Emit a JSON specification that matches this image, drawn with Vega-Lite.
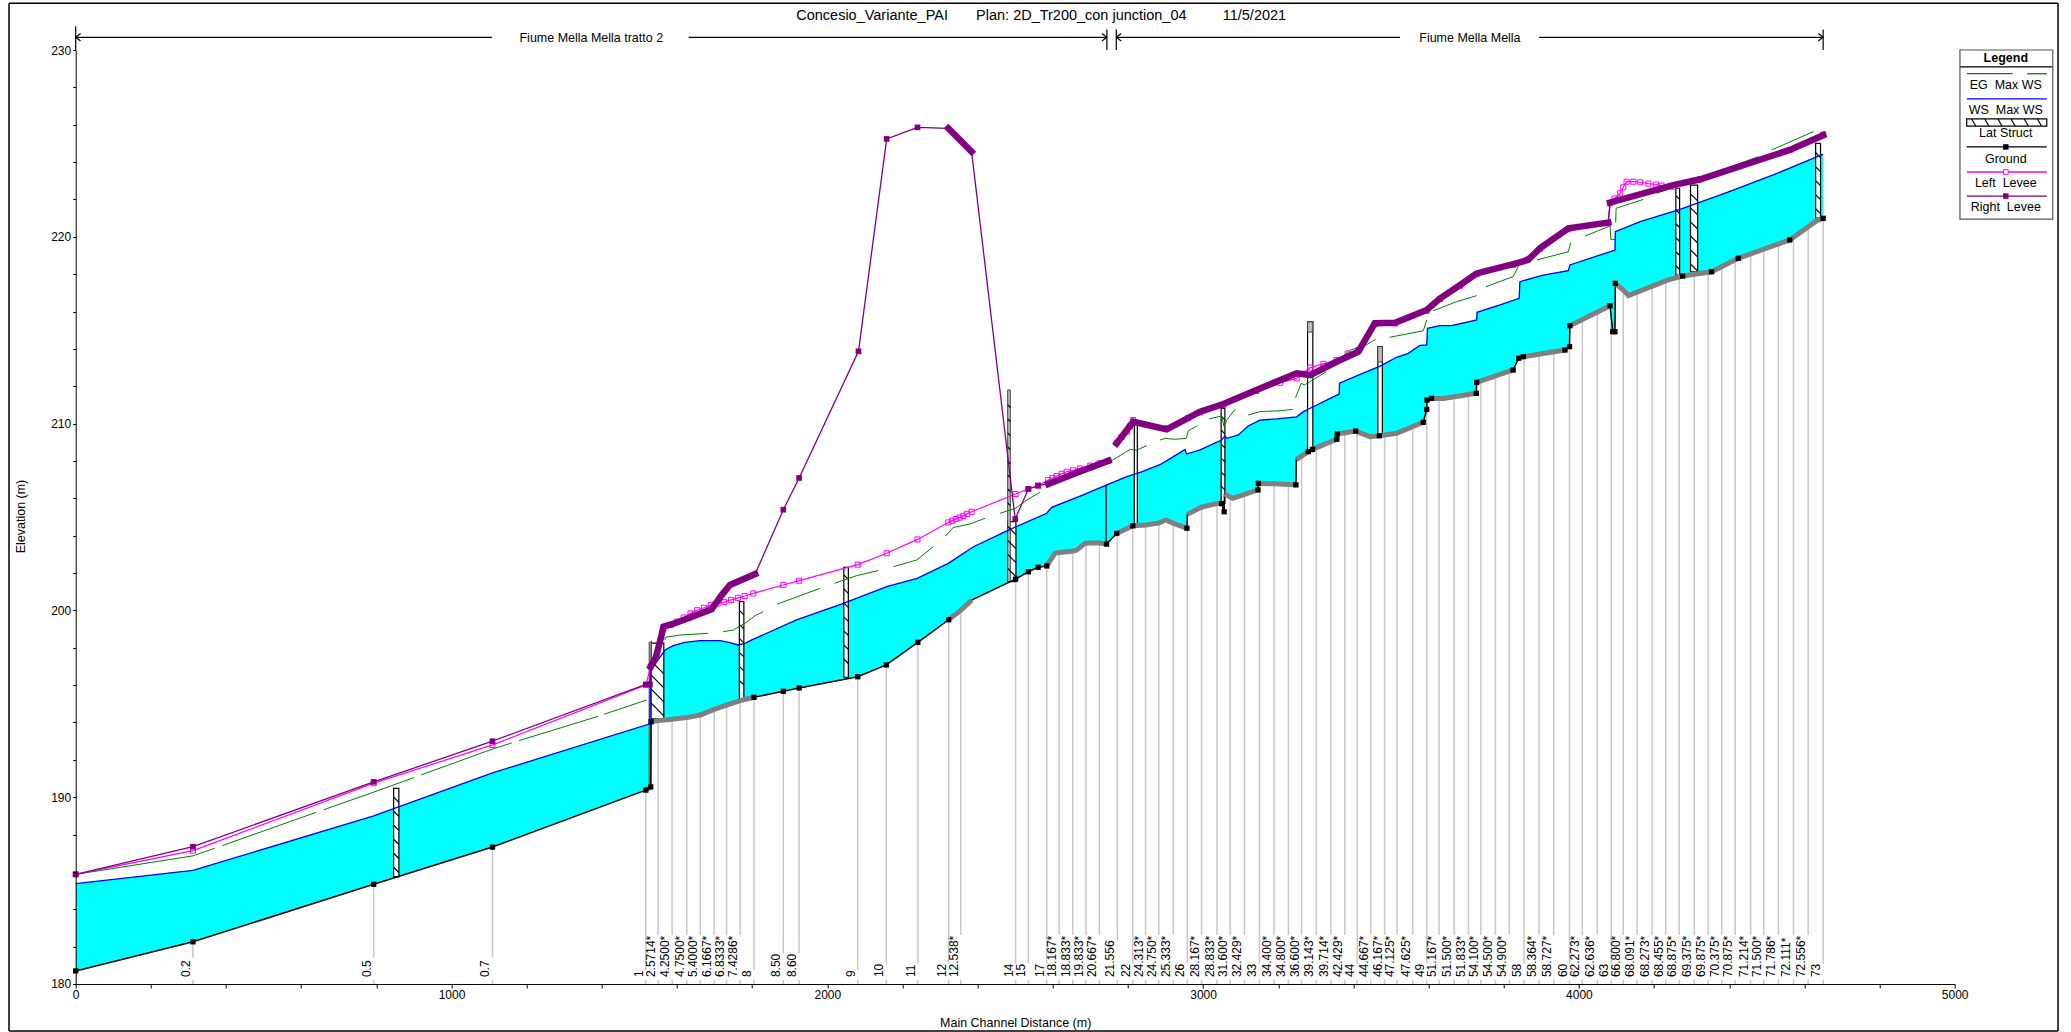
{"$schema":"https://vega.github.io/schema/vega-lite/v6.json","autosize":{"type":"none"},"padding":{"left":75.7,"top":50,"right":116.4,"bottom":48},"width":1879,"height":934,"background":"white",
"title":{"text":"Concesio_Variante_PAI\u00a0\u00a0\u00a0\u00a0\u00a0\u00a0\u00a0Plan: 2D_Tr200_con junction_04\u00a0\u00a0\u00a0\u00a0\u00a0\u00a0\u00a0\u00a0\u00a011/5/2021","anchor":"middle","dx":26,"offset":-21,"fontSize":14.5,"font":"Liberation Sans","fontWeight":"normal","color":"black"},
"config":{"view":{"stroke":null},"axis":{"grid":false,"labelFont":"Liberation Sans","titleFont":"Liberation Sans","labelFontSize":12,"titleFontSize":12.5,"titleFontWeight":"normal","domainColor":"black","tickColor":"black","labelColor":"black","titleColor":"black","tickSize":4,"labelPadding":2}},
"datasets":{
"frame":[{"x":-177.5,"x2":5275,"y":232.5,"y2":232.5},{"x":-177.5,"x2":5275,"y":177.48,"y2":177.48},{"x":-177.5,"x2":-177.5,"y":232.5,"y2":177.48},{"x":5275,"x2":5275,"y":232.5,"y2":177.48}],
"box":[{"x":5014,"x2":5261,"y":230,"y2":220.95}],
"keytitle":[{"t":"Legend","x":5136,"y":229.59}],
"keymarks":[{"series":"Ground","x":5136,"y":224.81},{"series":"Left Levee","x":5136,"y":223.47},{"series":"Right Levee","x":5136,"y":222.18}],
"ws":[{"x":0,"y":185.37},{"x":312,"y":186.08},{"x":793,"y":189.0},{"x":1109,"y":191.3},{"x":1528,"y":193.93},{"x":1530,"y":196.8},{"x":1568,"y":197.88},{"x":1590,"y":198.11},{"x":1621,"y":198.29},{"x":1661,"y":198.38},{"x":1715,"y":198.38},{"x":1741,"y":198.27},{"x":1763,"y":198.15},{"x":1781,"y":198.24},{"x":1799,"y":198.42},{"x":1918,"y":199.49},{"x":2043,"y":200.38},{"x":2158,"y":201.27},{"x":2239,"y":201.72},{"x":2322,"y":202.52},{"x":2389,"y":203.41},{"x":2482,"y":204.3},{"x":2584,"y":205.2},{"x":2597,"y":205.52},{"x":2681,"y":206.18},{"x":2739,"y":206.68},{"x":2797,"y":207.16},{"x":2836,"y":207.42},{"x":2885,"y":207.8},{"x":2921,"y":208.23},{"x":2952,"y":208.62},{"x":2956,"y":208.37},{"x":2992,"y":208.59},{"x":3049,"y":209.12},{"x":3058,"y":209.34},{"x":3063,"y":209.21},{"x":3094,"y":209.39},{"x":3120,"y":209.87},{"x":3151,"y":210.19},{"x":3196,"y":210.25},{"x":3249,"y":210.36},{"x":3267,"y":210.64},{"x":3293,"y":210.9},{"x":3338,"y":211.35},{"x":3362,"y":211.58},{"x":3363,"y":212.16},{"x":3418,"y":212.64},{"x":3471,"y":213.08},{"x":3515,"y":213.55},{"x":3546,"y":213.76},{"x":3577,"y":214.19},{"x":3595,"y":214.21},{"x":3597,"y":215.1},{"x":3630,"y":215.24},{"x":3661,"y":215.24},{"x":3728,"y":215.55},{"x":3729,"y":215.96},{"x":3790,"y":216.35},{"x":3841,"y":216.71},{"x":3843,"y":217.6},{"x":3905,"y":217.95},{"x":3972,"y":218.19},{"x":3976,"y":218.49},{"x":4096,"y":219.29},{"x":4097,"y":220.27},{"x":4163,"y":220.81},{"x":4269,"y":221.47},{"x":4393,"y":222.36},{"x":4517,"y":223.31},{"x":4650,"y":224.43}],
"ground":[{"x":0,"y":180.7,"s":1},{"x":312,"y":182.26,"s":1},{"x":793,"y":185.34,"s":1},{"x":1109,"y":187.33,"s":1},{"x":1517,"y":190.38,"run":1,"s":1},{"x":1530,"y":190.55,"run":1,"s":1},{"x":1531,"y":194.04,"run":2,"s":1},{"x":1550,"y":194.1,"run":2},{"x":1587,"y":194.17,"run":2},{"x":1626,"y":194.26,"run":2},{"x":1662,"y":194.4,"run":2},{"x":1699,"y":194.7,"run":2},{"x":1732,"y":194.93,"run":2},{"x":1768,"y":195.17,"run":2},{"x":1805,"y":195.35,"run":2,"s":1},{"x":1883,"y":195.67,"s":1},{"x":1925,"y":195.85,"s":1},{"x":2081,"y":196.45,"s":1},{"x":2157,"y":197.08,"s":1},{"x":2241,"y":198.29,"s":1},{"x":2323,"y":199.5,"run":3,"s":1},{"x":2355,"y":200.0,"run":3},{"x":2384,"y":200.55,"run":3},{"x":2501,"y":201.67,"s":1},{"x":2535,"y":202.07,"s":1},{"x":2561,"y":202.31,"s":1},{"x":2584,"y":202.38,"run":4,"s":1},{"x":2606,"y":203.06,"run":4},{"x":2617,"y":203.1,"run":4},{"x":2653,"y":203.17,"run":4},{"x":2664,"y":203.23,"run":4},{"x":2686,"y":203.6,"run":4},{"x":2724,"y":203.62,"run":4},{"x":2743,"y":203.55,"run":4,"s":1},{"x":2770,"y":204.12,"run":5,"s":1},{"x":2813,"y":204.53,"run":5,"s":1},{"x":2847,"y":204.57,"run":5},{"x":2882,"y":204.68,"run":5},{"x":2901,"y":204.84,"run":5},{"x":2921,"y":204.66,"run":5},{"x":2957,"y":204.4,"run":5,"s":1},{"x":2958,"y":205.14,"run":6},{"x":2996,"y":205.53,"run":6},{"x":3037,"y":205.72,"run":6},{"x":3049,"y":205.72,"run":6,"s":1},{"x":3056,"y":205.28,"s":1},{"x":3057,"y":206.23,"run":7},{"x":3079,"y":206.0,"run":7},{"x":3146,"y":206.45,"run":7,"s":1},{"x":3147,"y":206.8,"run":8,"s":1},{"x":3189,"y":206.78,"run":8},{"x":3227,"y":206.74,"run":8},{"x":3247,"y":206.72,"run":8,"s":1},{"x":3248,"y":208.07,"run":9},{"x":3280,"y":208.5,"run":9,"s":1},{"x":3291,"y":208.62,"run":10,"s":1},{"x":3351,"y":209.12,"run":10},{"x":3356,"y":209.16,"s":1},{"x":3357,"y":209.44,"run":11,"s":1},{"x":3406,"y":209.6,"run":11,"s":1},{"x":3444,"y":209.3,"run":11},{"x":3469,"y":209.35,"run":11,"s":1},{"x":3515,"y":209.48,"run":11},{"x":3586,"y":210.07,"run":11,"s":1},{"x":3595,"y":210.76,"s":1},{"x":3596,"y":211.26,"s":1},{"x":3608,"y":211.35,"run":12,"s":1},{"x":3640,"y":211.35,"run":12},{"x":3727,"y":211.62,"run":12,"s":1},{"x":3728,"y":212.21,"run":13,"s":1},{"x":3825,"y":212.87,"run":13,"s":1},{"x":3840,"y":213.5,"s":1},{"x":3852,"y":213.58,"run":14,"s":1},{"x":3963,"y":213.94,"run":14,"s":1},{"x":3975,"y":214.12,"s":1},{"x":3976,"y":215.24,"run":15,"s":1},{"x":4083,"y":216.31,"run":15,"s":1},{"x":4090,"y":214.92,"s":1},{"x":4096,"y":214.92,"s":1},{"x":4097,"y":217.51,"run":16,"s":1},{"x":4118,"y":217.15,"run":16},{"x":4132,"y":216.85,"run":16},{"x":4238,"y":217.69,"run":16},{"x":4276,"y":217.9,"run":16,"s":1},{"x":4353,"y":218.13,"run":16,"s":1},{"x":4424,"y":218.85,"run":16,"s":1},{"x":4561,"y":219.83,"run":16,"s":1},{"x":4633,"y":220.86,"run":16},{"x":4650,"y":220.99,"run":16,"s":1}],
"stations":[{"t":"0.2","x":312,"y":182.26,"y2":181.41},{"t":"0.5","x":793,"y":185.34,"y2":181.41},{"t":"0.7","x":1109,"y":187.33,"y2":181.41},{"t":"1","x":1517,"y":190.38,"y2":180.75},{"t":"2.5714*","x":1550,"y":194.1,"y2":182.62},{"t":"4.2500*","x":1587,"y":194.17,"y2":182.62},{"t":"4.7500*","x":1626,"y":194.26,"y2":182.62},{"t":"5.4000*","x":1662,"y":194.4,"y2":182.62},{"t":"6.1667*","x":1699,"y":194.7,"y2":182.62},{"t":"6.8333*","x":1732,"y":194.93,"y2":182.62},{"t":"7.4286*","x":1768,"y":195.17,"y2":182.62},{"t":"8","x":1805,"y":195.35,"y2":180.75},{"t":"8.50","x":1883,"y":195.67,"y2":181.66},{"t":"8.60","x":1925,"y":195.85,"y2":181.66},{"t":"9","x":2081,"y":196.45,"y2":180.75},{"t":"10","x":2157,"y":197.08,"y2":181.1},{"t":"11","x":2241,"y":198.29,"y2":181.1},{"t":"12","x":2323,"y":199.5,"y2":181.1},{"t":"12.538*","x":2355,"y":200.0,"y2":182.62},{"t":"14","x":2501,"y":201.66,"y2":181.1},{"t":"15","x":2535,"y":202.07,"y2":181.1},{"t":"17","x":2584,"y":202.38,"y2":181.1},{"t":"18.167*","x":2617,"y":203.1,"y2":182.62},{"t":"18.833*","x":2653,"y":203.15,"y2":182.62},{"t":"19.833*","x":2688,"y":203.55,"y2":182.62},{"t":"20.667*","x":2724,"y":203.62,"y2":182.62},{"t":"21.556","x":2772,"y":204.12,"y2":182.35},{"t":"22","x":2813,"y":204.53,"y2":181.1},{"t":"24.313*","x":2847,"y":204.57,"y2":182.62},{"t":"24.750*","x":2882,"y":204.68,"y2":182.62},{"t":"25.333*","x":2921,"y":204.66,"y2":182.62},{"t":"26","x":2958,"y":204.4,"y2":181.1},{"t":"28.167*","x":2996,"y":205.53,"y2":182.62},{"t":"28.833*","x":3037,"y":205.72,"y2":182.62},{"t":"31.600*","x":3072,"y":206.1,"y2":182.62},{"t":"32.429*","x":3110,"y":206.25,"y2":182.62},{"t":"33","x":3150,"y":206.8,"y2":181.1},{"t":"34.400*","x":3189,"y":206.78,"y2":182.62},{"t":"34.800*","x":3227,"y":206.74,"y2":182.62},{"t":"36.600*","x":3262,"y":208.15,"y2":182.62},{"t":"39.143*","x":3301,"y":208.6,"y2":182.62},{"t":"39.714*","x":3340,"y":209.05,"y2":182.62},{"t":"42.429*","x":3377,"y":209.5,"y2":182.62},{"t":"44","x":3410,"y":209.6,"y2":181.1},{"t":"44.667*","x":3446,"y":209.3,"y2":182.62},{"t":"46.167*","x":3483,"y":209.4,"y2":182.62},{"t":"47.125*","x":3516,"y":209.5,"y2":182.62},{"t":"47.625*","x":3558,"y":209.8,"y2":182.62},{"t":"49","x":3595,"y":210.76,"y2":181.1},{"t":"51.167*","x":3628,"y":211.35,"y2":182.62},{"t":"51.500*","x":3668,"y":211.4,"y2":182.62},{"t":"51.833*","x":3706,"y":211.55,"y2":182.62},{"t":"54.100*","x":3739,"y":212.24,"y2":182.62},{"t":"54.500*","x":3778,"y":212.5,"y2":182.62},{"t":"54.900*","x":3815,"y":212.8,"y2":182.62},{"t":"58","x":3854,"y":213.6,"y2":181.1},{"t":"58.364*","x":3894,"y":213.69,"y2":182.62},{"t":"58.727*","x":3933,"y":213.79,"y2":182.62},{"t":"60","x":3975,"y":214.12,"y2":181.1},{"t":"62.273*","x":4009,"y":215.6,"y2":182.62},{"t":"62.636*","x":4049,"y":215.9,"y2":182.62},{"t":"63","x":4086,"y":216.3,"y2":181.1},{"t":"66.800*","x":4118,"y":217.15,"y2":182.62},{"t":"68.091*","x":4155,"y":217.15,"y2":182.62},{"t":"68.273*","x":4195,"y":217.45,"y2":182.62},{"t":"68.455*","x":4231,"y":217.65,"y2":182.62},{"t":"68.875*","x":4267,"y":217.85,"y2":182.62},{"t":"69.375*","x":4307,"y":218.0,"y2":182.62},{"t":"69.875*","x":4344,"y":218.15,"y2":182.62},{"t":"70.375*","x":4380,"y":218.4,"y2":182.62},{"t":"70.875*","x":4416,"y":218.75,"y2":182.62},{"t":"71.214*","x":4457,"y":219.05,"y2":182.62},{"t":"71.500*","x":4492,"y":219.3,"y2":182.62},{"t":"71.786*","x":4531,"y":219.65,"y2":182.62},{"t":"72.111*","x":4571,"y":219.9,"y2":182.62},{"t":"72.556*","x":4610,"y":220.5,"y2":182.62},{"t":"73","x":4650,"y":220.99,"y2":181.1}],
"eg":[{"x":0,"y":185.87,"seg":0},{"x":312,"y":186.86,"seg":0},{"x":370,"y":187.27,"seg":0},{"x":390,"y":187.41,"seg":1},{"x":640,"y":189.19,"seg":1},{"x":660,"y":189.33,"seg":2},{"x":793,"y":190.27,"seg":2},{"x":900,"y":191.05,"seg":2},{"x":920,"y":191.2,"seg":3},{"x":1109,"y":192.58,"seg":3},{"x":1160,"y":192.9,"seg":3},{"x":1180,"y":193.03,"seg":4},{"x":1390,"y":194.33,"seg":4},{"x":1406,"y":194.44,"seg":5},{"x":1519,"y":195.2,"seg":5},{"x":1532,"y":198.38,"seg":6},{"x":1533,"y":196.8,"seg":6},{"x":1568,"y":198.42,"seg":7},{"x":1569,"y":198.56,"seg":7},{"x":1608,"y":198.68,"seg":7},{"x":1683,"y":198.77,"seg":7},{"x":1723,"y":198.86,"seg":8},{"x":1750,"y":198.95,"seg":8},{"x":1781,"y":199.31,"seg":8},{"x":1808,"y":199.72,"seg":8},{"x":1830,"y":199.93,"seg":8},{"x":1867,"y":200.34,"seg":9},{"x":1981,"y":201.18,"seg":9},{"x":2019,"y":201.45,"seg":10},{"x":2078,"y":201.86,"seg":10},{"x":2136,"y":202.13,"seg":10},{"x":2176,"y":202.34,"seg":11},{"x":2238,"y":202.7,"seg":11},{"x":2282,"y":203.41,"seg":11},{"x":2315,"y":203.98,"seg":12},{"x":2335,"y":204.44,"seg":12},{"x":2380,"y":204.63,"seg":12},{"x":2420,"y":204.93,"seg":12},{"x":2460,"y":205.2,"seg":13},{"x":2500,"y":205.46,"seg":13},{"x":2531,"y":205.91,"seg":13},{"x":2566,"y":206.32,"seg":13},{"x":2597,"y":206.89,"seg":14},{"x":2664,"y":207.37,"seg":14},{"x":2699,"y":207.78,"seg":14},{"x":2748,"y":207.91,"seg":14},{"x":2806,"y":208.62,"seg":14},{"x":2823,"y":208.58,"seg":14},{"x":2850,"y":208.82,"seg":14},{"x":2885,"y":209.12,"seg":15},{"x":2899,"y":209.21,"seg":15},{"x":2925,"y":209.16,"seg":15},{"x":2955,"y":209.21,"seg":15},{"x":2961,"y":209.62,"seg":15},{"x":2985,"y":209.89,"seg":15},{"x":3016,"y":210.25,"seg":16},{"x":3049,"y":210.41,"seg":16},{"x":3056,"y":209.84,"seg":16},{"x":3063,"y":210.19,"seg":16},{"x":3085,"y":210.76,"seg":16},{"x":3120,"y":210.46,"seg":17},{"x":3151,"y":210.64,"seg":17},{"x":3205,"y":210.69,"seg":17},{"x":3238,"y":210.76,"seg":17},{"x":3246,"y":211.39,"seg":18},{"x":3261,"y":212.16,"seg":18},{"x":3270,"y":212.07,"seg":18},{"x":3328,"y":212.78,"seg":18},{"x":3355,"y":213.31,"seg":19},{"x":3391,"y":213.94,"seg":19},{"x":3426,"y":214.12,"seg":19},{"x":3459,"y":214.51,"seg":19},{"x":3496,"y":214.62,"seg":20},{"x":3586,"y":214.97,"seg":20},{"x":3595,"y":215.55,"seg":20},{"x":3612,"y":216.04,"seg":21},{"x":3675,"y":216.53,"seg":21},{"x":3728,"y":216.85,"seg":21},{"x":3753,"y":217.33,"seg":22},{"x":3825,"y":217.87,"seg":22},{"x":3843,"y":218.58,"seg":22},{"x":3888,"y":218.76,"seg":23},{"x":3972,"y":219.2,"seg":23},{"x":3978,"y":219.68,"seg":23},{"x":4016,"y":220.04,"seg":24},{"x":4083,"y":220.58,"seg":24},{"x":4085,"y":219.86,"seg":24},{"x":4096,"y":219.86,"seg":24},{"x":4098,"y":220.76,"seg":25},{"x":4099,"y":221.53,"seg":25},{"x":4171,"y":222.0,"seg":25},{"x":4207,"y":222.33,"seg":26},{"x":4269,"y":222.77,"seg":26},{"x":4327,"y":223.18,"seg":26},{"x":4367,"y":223.48,"seg":27},{"x":4478,"y":224.29,"seg":27},{"x":4513,"y":224.65,"seg":28},{"x":4624,"y":225.63,"seg":28}],
"left":[{"x":0,"y":185.87,"seg":"a"},{"x":312,"y":187.14,"seg":"a"},{"x":793,"y":190.75,"seg":"a"},{"x":1109,"y":192.8,"seg":"a"},{"x":1517,"y":196.0,"seg":"a"},{"x":1530,"y":196.99,"seg":"a"},{"x":1564,"y":199.04,"seg":"a"},{"x":1582,"y":199.22,"seg":"a"},{"x":1600,"y":199.4,"seg":"a"},{"x":1618,"y":199.62,"seg":"a"},{"x":1636,"y":199.84,"seg":"a"},{"x":1654,"y":200.01,"seg":"a"},{"x":1672,"y":200.14,"seg":"a"},{"x":1690,"y":200.28,"seg":"a"},{"x":1708,"y":200.37,"seg":"a"},{"x":1726,"y":200.44,"seg":"a"},{"x":1744,"y":200.56,"seg":"a"},{"x":1762,"y":200.67,"seg":"a"},{"x":1780,"y":200.77,"seg":"a"},{"x":1803,"y":200.91,"seg":"a"},{"x":1883,"y":201.36,"seg":"a"},{"x":1925,"y":201.59,"seg":"a"},{"x":2081,"y":202.45,"seg":"a"},{"x":2158,"y":203.06,"seg":"a"},{"x":2240,"y":203.8,"seg":"a"},{"x":2322,"y":204.71,"seg":"a"},{"x":2332,"y":204.8,"seg":"a"},{"x":2342,"y":204.89,"seg":"a"},{"x":2352,"y":204.97,"seg":"a"},{"x":2362,"y":205.06,"seg":"a"},{"x":2372,"y":205.17,"seg":"a"},{"x":2384,"y":205.28,"seg":"a"},{"x":2501,"y":206.23,"seg":"a"},{"x":2535,"y":206.5,"seg":"a"},{"x":2561,"y":206.68,"seg":"a"},{"x":2588,"y":206.98,"seg":"a"},{"x":2599,"y":207.09,"seg":"a"},{"x":2610,"y":207.19,"seg":"a"},{"x":2624,"y":207.31,"seg":"a"},{"x":2637,"y":207.42,"seg":"a"},{"x":2654,"y":207.5,"seg":"a"},{"x":2672,"y":207.6,"seg":"a"},{"x":2700,"y":207.75,"seg":"a"},{"x":2725,"y":207.88,"seg":"a"},{"x":2748,"y":208.01,"seg":"a"},{"x":2770,"y":208.98,"seg":"b"},{"x":2783,"y":209.28,"seg":"b"},{"x":2797,"y":209.57,"seg":"b"},{"x":2805,"y":209.85,"seg":"b"},{"x":2814,"y":210.19,"seg":"b"},{"x":2903,"y":209.75,"seg":"b"},{"x":2960,"y":210.3,"seg":"b"},{"x":2992,"y":210.6,"seg":"b"},{"x":3054,"y":211.0,"seg":"b"},{"x":3142,"y":211.75,"seg":"b"},{"x":3205,"y":212.19,"seg":"b"},{"x":3249,"y":212.42,"seg":"b"},{"x":3285,"y":213.0,"seg":"b"},{"x":3320,"y":213.2,"seg":"b"},{"x":3355,"y":213.4,"seg":"b"},{"x":3385,"y":213.75,"seg":"b"},{"x":3413,"y":213.94,"seg":"b"},{"x":3457,"y":215.32,"seg":"b"},{"x":3511,"y":215.36,"seg":"b"},{"x":3595,"y":216.04,"seg":"b"},{"x":3631,"y":216.67,"seg":"b"},{"x":3684,"y":217.38,"seg":"b"},{"x":3728,"y":218.0,"seg":"b"},{"x":3825,"y":218.5,"seg":"b"},{"x":3897,"y":219.36,"seg":"b"},{"x":3972,"y":220.41,"seg":"b"},{"x":4078,"y":220.72,"seg":"b"},{"x":4083,"y":221.8,"seg":"b"},{"x":4095,"y":222.05,"seg":"b"},{"x":4110,"y":222.33,"seg":"b"},{"x":4118,"y":222.65,"seg":"b"},{"x":4127,"y":222.95,"seg":"b"},{"x":4145,"y":222.95,"seg":"b"},{"x":4163,"y":222.92,"seg":"b"},{"x":4185,"y":222.85,"seg":"b"},{"x":4205,"y":222.8,"seg":"b"},{"x":4220,"y":222.74,"seg":"b"},{"x":4251,"y":222.68,"seg":"b"},{"x":4323,"y":223.08,"seg":"b"},{"x":4561,"y":224.65,"seg":"b"},{"x":4650,"y":225.47,"seg":"b"}],
"right":[{"x":0,"y":185.87,"seg":"a","s":1},{"x":312,"y":187.35,"seg":"a","s":1},{"x":793,"y":190.82,"seg":"a","s":1},{"x":1109,"y":193.0,"seg":"a","s":1},{"x":1517,"y":196.04,"seg":"a","s":1},{"x":1528,"y":196.04,"seg":"a","s":1},{"x":1530,"y":196.99,"seg":"a","run":1},{"x":1543,"y":197.44,"seg":"a","run":1},{"x":1550,"y":197.97,"seg":"a","run":1},{"x":1559,"y":198.68,"seg":"a","run":1},{"x":1564,"y":199.13,"seg":"a","run":1},{"x":1587,"y":199.26,"seg":"a","run":1},{"x":1630,"y":199.58,"seg":"a","run":1},{"x":1692,"y":200.06,"seg":"a","run":1},{"x":1719,"y":200.82,"seg":"a","run":1},{"x":1741,"y":201.36,"seg":"a","run":1},{"x":1808,"y":201.95,"seg":"a","run":1},{"x":1883,"y":205.39,"seg":"a","s":1},{"x":1925,"y":207.09,"seg":"a","s":1},{"x":2083,"y":213.87,"seg":"a","s":1},{"x":2158,"y":225.24,"seg":"a","s":1},{"x":2240,"y":225.86,"seg":"a","s":1},{"x":2322,"y":225.81,"seg":"a","run":2},{"x":2384,"y":224.56,"seg":"a","run":2},{"x":2500,"y":204.89,"seg":"a","s":1},{"x":2535,"y":206.5,"seg":"a","s":1},{"x":2561,"y":206.68,"seg":"a","s":1},{"x":2588,"y":206.77,"seg":"a","run":3},{"x":2664,"y":207.37,"seg":"a","run":3},{"x":2748,"y":208.01,"seg":"a","run":3},{"x":2770,"y":208.94,"seg":"b","run":4},{"x":2814,"y":210.1,"seg":"b","run":4},{"x":2903,"y":209.69,"seg":"b","run":4},{"x":2992,"y":210.64,"seg":"b","run":4},{"x":3054,"y":211.05,"seg":"b","run":4},{"x":3142,"y":211.8,"seg":"b","run":4},{"x":3249,"y":212.69,"seg":"b","run":4},{"x":3285,"y":212.6,"seg":"b","run":4},{"x":3355,"y":213.31,"seg":"b","run":4},{"x":3413,"y":213.85,"seg":"b","run":4},{"x":3457,"y":215.37,"seg":"b","run":4},{"x":3511,"y":215.4,"seg":"b","run":4},{"x":3595,"y":216.08,"seg":"b","run":4},{"x":3631,"y":216.71,"seg":"b","run":4},{"x":3684,"y":217.42,"seg":"b","run":4},{"x":3728,"y":218.04,"seg":"b","run":4},{"x":3825,"y":218.54,"seg":"b","run":4},{"x":3865,"y":218.76,"seg":"b","run":4},{"x":3897,"y":219.4,"seg":"b","run":4},{"x":3972,"y":220.45,"seg":"b","run":4},{"x":4078,"y":220.76,"seg":"b","run":4},{"x":4083,"y":221.83,"seg":"b","run":5},{"x":4251,"y":222.77,"seg":"b","run":5},{"x":4323,"y":223.08,"seg":"b","run":5},{"x":4561,"y":224.65,"seg":"b","run":5},{"x":4650,"y":225.43,"seg":"b","run":5}],
"struct":[{"x":846,"x2":860,"y":185.73,"y2":190.47},{"x":1531,"x2":1565,"y":194.2,"y2":198.25},{"x":1766,"x2":1778,"y":195.2,"y2":200.47},{"x":2044,"x2":2056,"y":196.42,"y2":202.3},{"x":2480,"x2":2502,"y":201.54,"y2":204.75},{"x":2817,"x2":2825,"y":204.53,"y2":209.92},{"x":3048,"x2":3058,"y":205.73,"y2":210.82},{"x":3278,"x2":3292,"y":208.5,"y2":215.45},{"x":3465,"x2":3477,"y":209.35,"y2":214.12},{"x":4258,"x2":4268,"y":217.95,"y2":222.6},{"x":4297,"x2":4316,"y":218.13,"y2":222.77},{"x":4630,"x2":4643,"y":221,"y2":225.0},{"x":5032,"x2":5245,"y":225.93,"y2":226.31}],
"caps":[{"x":1526,"x2":1531,"y":190.6,"y2":198.3},{"x":2480,"x2":2487,"y":201.54,"y2":211.8},{"x":3278,"x2":3292,"y":214.9,"y2":215.45},{"x":3465,"x2":3477,"y":213.3,"y2":214.12}],
"segs":[{"x":846,"x2":860,"y":190.0,"y2":189.72},{"x":846,"x2":860,"y":189.25,"y2":188.97},{"x":846,"x2":860,"y":188.5,"y2":188.22},{"x":846,"x2":860,"y":187.75,"y2":187.47},{"x":846,"x2":860,"y":187.0,"y2":186.72},{"x":846,"x2":860,"y":186.25,"y2":185.97},{"x":1531,"x2":1565,"y":197.3,"y2":196.6},{"x":1531,"x2":1565,"y":196.55,"y2":195.85},{"x":1531,"x2":1565,"y":195.8,"y2":195.1},{"x":1531,"x2":1565,"y":195.05,"y2":194.35},{"x":1766,"x2":1778,"y":200.0,"y2":199.76},{"x":1766,"x2":1778,"y":199.25,"y2":199.01},{"x":1766,"x2":1778,"y":198.5,"y2":198.26},{"x":1766,"x2":1778,"y":197.75,"y2":197.51},{"x":1766,"x2":1778,"y":197.0,"y2":196.76},{"x":1766,"x2":1778,"y":196.25,"y2":196.01},{"x":2044,"x2":2056,"y":201.9,"y2":201.66},{"x":2044,"x2":2056,"y":201.15,"y2":200.91},{"x":2044,"x2":2056,"y":200.4,"y2":200.16},{"x":2044,"x2":2056,"y":199.65,"y2":199.41},{"x":2044,"x2":2056,"y":198.9,"y2":198.66},{"x":2044,"x2":2056,"y":198.15,"y2":197.91},{"x":2044,"x2":2056,"y":197.4,"y2":197.16},{"x":2480,"x2":2502,"y":204.5,"y2":204.06},{"x":2480,"x2":2502,"y":203.75,"y2":203.31},{"x":2480,"x2":2502,"y":203.0,"y2":202.56},{"x":2480,"x2":2502,"y":202.25,"y2":201.81},{"x":2480,"x2":2487,"y":211.0,"y2":210.86},{"x":2480,"x2":2487,"y":210.25,"y2":210.11},{"x":2480,"x2":2487,"y":209.5,"y2":209.36},{"x":2480,"x2":2487,"y":208.75,"y2":208.61},{"x":2480,"x2":2487,"y":208.0,"y2":207.86},{"x":2480,"x2":2487,"y":207.25,"y2":207.11},{"x":2480,"x2":2487,"y":206.5,"y2":206.36},{"x":2480,"x2":2487,"y":205.75,"y2":205.61},{"x":3048,"x2":3058,"y":210.4,"y2":210.2},{"x":3048,"x2":3058,"y":209.65,"y2":209.45},{"x":3048,"x2":3058,"y":208.9,"y2":208.7},{"x":3048,"x2":3058,"y":208.15,"y2":207.95},{"x":3048,"x2":3058,"y":207.4,"y2":207.2},{"x":3048,"x2":3058,"y":206.65,"y2":206.45},{"x":4258,"x2":4268,"y":222.2,"y2":222.0},{"x":4258,"x2":4268,"y":221.45,"y2":221.25},{"x":4258,"x2":4268,"y":220.7,"y2":220.5},{"x":4258,"x2":4268,"y":219.95,"y2":219.75},{"x":4258,"x2":4268,"y":219.2,"y2":219.0},{"x":4258,"x2":4268,"y":218.45,"y2":218.25},{"x":4297,"x2":4316,"y":222.3,"y2":221.92},{"x":4297,"x2":4316,"y":221.55,"y2":221.17},{"x":4297,"x2":4316,"y":220.8,"y2":220.42},{"x":4297,"x2":4316,"y":220.05,"y2":219.67},{"x":4297,"x2":4316,"y":219.3,"y2":218.92},{"x":4297,"x2":4316,"y":218.55,"y2":218.17},{"x":4630,"x2":4643,"y":224.5,"y2":224.24},{"x":4630,"x2":4643,"y":223.75,"y2":223.49},{"x":4630,"x2":4643,"y":223.0,"y2":222.74},{"x":4630,"x2":4643,"y":222.25,"y2":221.99},{"x":4630,"x2":4643,"y":221.5,"y2":221.24},{"x":2742,"x2":2742,"y":206.68,"y2":203.59},{"x":0,"x2":1108,"y":230.68,"y2":230.68},{"x":1631,"x2":2744,"y":230.68,"y2":230.68},{"x":2769,"x2":3524,"y":230.68,"y2":230.68},{"x":3894,"x2":4650,"y":230.68,"y2":230.68},{"x":0,"x2":0,"y":230,"y2":231.27},{"x":2744,"x2":2744,"y":230,"y2":231.1},{"x":2769,"x2":2769,"y":230,"y2":231.1},{"x":4650,"x2":4650,"y":230,"y2":231.1},{"x":0,"x2":13,"y":230.68,"y2":230.88},{"x":0,"x2":13,"y":230.68,"y2":230.48},{"x":2744,"x2":2731,"y":230.68,"y2":230.88},{"x":2744,"x2":2731,"y":230.68,"y2":230.48},{"x":2769,"x2":2782,"y":230.68,"y2":230.88},{"x":2769,"x2":2782,"y":230.68,"y2":230.48},{"x":4650,"x2":4637,"y":230.68,"y2":230.88},{"x":4650,"x2":4637,"y":230.68,"y2":230.48},{"x":5014,"x2":5261,"y":229.1,"y2":229.1},{"x":5045,"x2":5056,"y":226.31,"y2":225.93},{"x":5080,"x2":5091,"y":226.31,"y2":225.93},{"x":5115,"x2":5126,"y":226.31,"y2":225.93},{"x":5150,"x2":5161,"y":226.31,"y2":225.93},{"x":5185,"x2":5196,"y":226.31,"y2":225.93},{"x":5220,"x2":5231,"y":226.31,"y2":225.93}],
"keys":[{"series":"EG  Max WS","x":5032,"x2":5154,"y":228.73},{"series":"EG  Max WS","x":5193,"x2":5245,"y":228.73},{"series":"WS  Max WS","x":5032,"x2":5245,"y":227.38},{"series":"Ground","x":5032,"x2":5245,"y":224.81},{"series":"Left Levee","x":5032,"x2":5245,"y":223.47},{"series":"Right Levee","x":5032,"x2":5245,"y":222.18}],
"keytext":[{"t":"EG\u00a0\u00a0Max\u00a0WS","x":5136,"y":228.13},{"t":"WS\u00a0\u00a0Max\u00a0WS","x":5136,"y":226.79},{"t":"Lat\u00a0Struct","x":5136,"y":225.56},{"t":"Ground","x":5136,"y":224.17},{"t":"Left\u00a0\u00a0Levee","x":5136,"y":222.88},{"t":"Right\u00a0\u00a0Levee","x":5136,"y":221.6}],
"reach":[{"t":"Fiume Mella Mella tratto 2","x":1372,"y":230.62},{"t":"Fiume Mella Mella","x":3710,"y":230.62}]
},
"encoding":{"x":{"field":"x","type":"quantitative","scale":{"domain":[0,5000],"nice":false},"axis":{"title":"Main Channel Distance (m)","titleY":33,"zindex":1,"values":[0,200,400,600,800,1000,1200,1400,1600,1800,2000,2200,2400,2600,2800,3000,3200,3400,3600,3800,4000,4200,4400,4600,4800,5000],"labelExpr":"datum.value % 1000 == 0 ? datum.label : ''","format":"d","labelOverlap":false,"labelFlush":false}},"y":{"field":"y","type":"quantitative","scale":{"domain":[180,230],"nice":false},"axis":{"title":"Elevation (m)","titleX":-48,"titleY":466,"zindex":1,"values":[180,182,184,186,188,190,192,194,196,198,200,202,204,206,208,210,212,214,216,218,220,222,224,226,228,230],"labelExpr":"datum.value % 10 == 0 ? datum.label : ''","labelOverlap":false,"tickSize":3}}},
"layer":[
{"data":{"name":"ws"},"mark":{"type":"area","color":"#00ffff"},"encoding":{"y2":{"datum":180}}},
{"data":{"name":"ground"},"mark":{"type":"area","color":"white"},"encoding":{"y2":{"datum":180}}},
{"data":{"name":"stations"},"mark":{"type":"rule","color":"#c8c8c8","strokeWidth":1.5},"encoding":{"y2":{"field":"y2"}}},
{"data":{"name":"stations"},"mark":{"type":"rule","color":"#c8c8c8","strokeWidth":1.5},"encoding":{"y":{"datum":180},"y2":{"datum":180.23}}},
{"data":{"name":"stations"},"mark":{"type":"text","angle":270,"align":"left","baseline":"bottom","font":"Liberation Sans","fontSize":12,"color":"black","dx":0},"encoding":{"y":{"datum":180.37},"text":{"field":"t"}}},
{"data":{"name":"struct"},"mark":{"type":"rect","fill":"white","stroke":"black","strokeWidth":1.2},"encoding":{"x2":{"field":"x2"},"y2":{"field":"y2"}}},
{"data":{"name":"caps"},"mark":{"type":"rect","fill":"#bdbdbd","stroke":"#444444","strokeWidth":1},"encoding":{"x2":{"field":"x2"},"y2":{"field":"y2"}}},
{"data":{"name":"segs"},"mark":{"type":"rule","color":"black","strokeWidth":1.2},"encoding":{"x2":{"field":"x2"},"y2":{"field":"y2"}}},
{"data":{"name":"ground"},"mark":{"type":"line","color":"black","strokeWidth":1.5}},
{"data":{"name":"ground"},"transform":[{"filter":"isValid(datum.run)"}],"mark":{"type":"line","color":"#808080","strokeWidth":5},"encoding":{"detail":{"field":"run"}}},
{"data":{"name":"ground"},"transform":[{"filter":"datum.s == 1"}],"mark":{"type":"point","shape":"square","filled":true,"color":"black","size":28,"opacity":1}},
{"data":{"name":"ws"},"mark":{"type":"line","color":"#0000ff","strokeWidth":1.3}},
{"data":{"name":"eg"},"mark":{"type":"line","color":"#008000","strokeWidth":1},"encoding":{"detail":{"field":"seg"}}},
{"data":{"name":"left"},"mark":{"type":"line","color":"#ff00ff","strokeWidth":1.2},"encoding":{"detail":{"field":"seg"}}},
{"data":{"name":"left"},"mark":{"type":"point","shape":"square","filled":false,"color":"#ff00ff","size":26,"strokeWidth":1,"opacity":1}},
{"data":{"name":"right"},"mark":{"type":"line","color":"#800080","strokeWidth":1.3},"encoding":{"detail":{"field":"seg"}}},
{"data":{"name":"right"},"transform":[{"filter":"isValid(datum.run)"}],"mark":{"type":"line","color":"#800080","strokeWidth":6.5,"strokeCap":"square"},"encoding":{"detail":{"field":"run"}}},
{"data":{"name":"right"},"transform":[{"filter":"datum.s == 1"}],"mark":{"type":"point","shape":"square","filled":true,"color":"#800080","size":32,"opacity":1}},
{"data":{"name":"reach"},"mark":{"type":"text","font":"Liberation Sans","fontSize":12.5,"color":"black"},"encoding":{"text":{"field":"t"}}},
{"data":{"name":"frame"},"mark":{"type":"rule","color":"black","strokeWidth":1.5},"encoding":{"x2":{"field":"x2"},"y2":{"field":"y2"}}},
{"data":{"name":"box"},"mark":{"type":"rect","fillOpacity":0,"stroke":"#555555","strokeWidth":1.2},"encoding":{"x2":{"field":"x2"},"y2":{"field":"y2"}}},
{"data":{"name":"keytitle"},"mark":{"type":"text","font":"Liberation Sans","fontSize":12.5,"fontWeight":"bold","color":"black"},"encoding":{"text":{"field":"t"}}},
{"data":{"name":"keytext"},"mark":{"type":"text","font":"Liberation Sans","fontSize":12.5,"color":"black"},"encoding":{"text":{"field":"t"}}},
{"data":{"name":"keys"},"mark":{"type":"rule","strokeWidth":1.3},"encoding":{"x2":{"field":"x2"},"color":{"field":"series","type":"nominal","legend":null,"scale":{"domain":["EG  Max WS","WS  Max WS","Ground","Left Levee","Right Levee"],"range":["#008000","#0000ff","#000000","#ff00ff","#800080"]}}}},
{"data":{"name":"keymarks"},"transform":[{"filter":"datum.series == 'Ground'"}],"mark":{"type":"point","shape":"square","filled":true,"color":"black","size":30,"opacity":1}},
{"data":{"name":"keymarks"},"transform":[{"filter":"datum.series == 'Left Levee'"}],"mark":{"type":"point","shape":"square","filled":true,"fill":"white","stroke":"#ff00ff","strokeWidth":1,"size":22,"opacity":1}},
{"data":{"name":"keymarks"},"transform":[{"filter":"datum.series == 'Right Levee'"}],"mark":{"type":"point","shape":"square","filled":true,"color":"#800080","size":30,"opacity":1}}
]}
